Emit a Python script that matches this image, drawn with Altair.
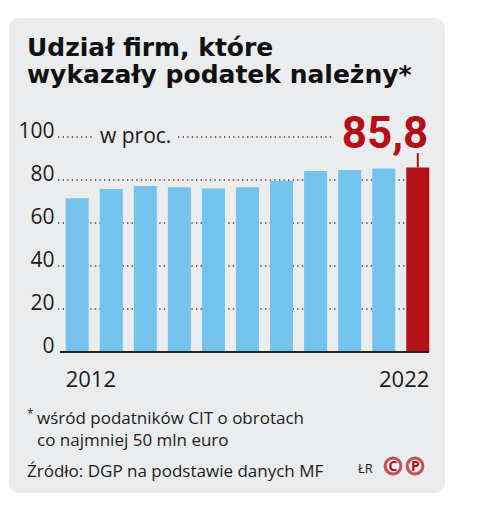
import altair as alt
import pandas as pd

years = [2012, 2013, 2014, 2015, 2016, 2017, 2018, 2019, 2020, 2021, 2022]
values = [71.5, 75.8, 77.2, 76.6, 76.0, 76.6, 79.7, 84.2, 84.7, 85.4, 85.8]
highlight_label = "85,8"
y_ticks = [0, 20, 40, 60, 80, 100]
grid_vals = [20, 40, 60, 80]
title_lines = ["Udział firm, które", "wykazały podatek należny*"]
unit_label = "w proc."
first_label = "2012"
last_label = "2022"
note_lines = ["wśród podatników CIT o obrotach", "co najmniej 50 mln euro"]
source_text = "Źródło: DGP na podstawie danych MF"
author_text = "ŁR"

BLUE = "#74c3ec"
RED = "#b3101a"
PANEL = "#ebecee"
INK = "#1c1c1c"
FONT = "Open Sans"

df = pd.DataFrame({"year": [str(y) for y in years], "value": values})
df["hl"] = df["year"] == str(years[-1])
last = df[df["hl"]].copy()
last["label"] = highlight_label

one = pd.DataFrame({"k": [0]})

xscale = alt.Scale(paddingInner=0.324, paddingOuter=0.226)
yscale = alt.Scale(domain=[0, 100], nice=False)
yaxis = alt.Axis(values=y_ticks, title=None, domain=False, ticks=False,
                 grid=False, labelFont=FONT, labelFontSize=21, zindex=1,
                 labelColor=INK, labelBaseline="alphabetic", labelPadding=4)


def Y(field):
    return alt.Y(field, scale=yscale, axis=yaxis, title=None)


def X(**kw):
    return alt.X("year:O", scale=xscale, axis=None, **kw)


panel = alt.Chart(one).mark_rect(fill=PANEL, cornerRadius=10).encode(
    x=alt.value(-49), x2=alt.value(387), y=alt.value(-119), y2=alt.value(356)
)

dots = dict(color="#444", strokeWidth=1.4, strokeDash=[1.4, 3.2])
grid = alt.Chart(pd.DataFrame({"value": grid_vals})).mark_rule(**dots).encode(
    y=Y("value:Q"), x=alt.value(0), x2=alt.value(371)
)
grid100a = alt.Chart(pd.DataFrame({"value": [100]})).mark_rule(**dots).encode(
    y=Y("value:Q"), x=alt.value(0), x2=alt.value(34)
)
grid100b = alt.Chart(pd.DataFrame({"value": [100]})).mark_rule(**dots).encode(
    y=Y("value:Q"), x=alt.value(120), x2=alt.value(274)
)

bars = alt.Chart(df).mark_bar().encode(
    x=X(),
    y=Y("value:Q"),
    color=alt.condition(alt.datum.hl, alt.value(RED), alt.value(BLUE)),
)

baseline = alt.Chart(pd.DataFrame({"value": [0]})).mark_rule(color="#222", strokeWidth=2).encode(
    y=Y("value:Q"), x=alt.value(2), x2=alt.value(371)
)

tick = alt.Chart(last).mark_rule(color=RED, strokeWidth=2).encode(
    x=X(), y=Y("value:Q"), y2=alt.value(16)
)

big = alt.Chart(last).mark_text(
    font="Roboto", fontWeight="bold", fontSize=44, color=RED,
    align="right", baseline="alphabetic", dx=-1
).encode(x=X(bandPosition=1), y=alt.value(11), text="label:N")

unit = alt.Chart(one).mark_text(
    font=FONT, fontSize=21, color=INK, align="left", baseline="alphabetic"
).encode(x=alt.value(42), y=alt.value(5.5), text=alt.value(unit_label))

yr_first = alt.Chart(df[df["year"] == first_label]).mark_text(
    font=FONT, fontSize=22, color=INK, align="left", baseline="alphabetic"
).encode(x=X(bandPosition=0), y=alt.value(250), text=alt.value(first_label))
yr_last = alt.Chart(df[df["year"] == last_label]).mark_text(
    font=FONT, fontSize=22, color=INK, align="right", baseline="alphabetic"
).encode(x=X(bandPosition=1), y=alt.value(250), text=alt.value(last_label))

tstyle = dict(font="DejaVu Sans", fontWeight="bold", fontSize=25, color="#111",
              align="left", baseline="alphabetic")
t1 = alt.Chart(one).mark_text(**tstyle).encode(
    x=alt.value(-31), y=alt.value(-81), text=alt.value(title_lines[0]))
t2 = alt.Chart(one).mark_text(**tstyle).encode(
    x=alt.value(-31), y=alt.value(-54), text=alt.value(title_lines[1]))

star = alt.Chart(one).mark_text(
    font=FONT, fontSize=12, color=INK, align="left", baseline="alphabetic"
).encode(x=alt.value(-31), y=alt.value(281), text=alt.value("*"))
nstyle = dict(font=FONT, fontSize=17, color=INK, align="left", baseline="alphabetic")
n1 = alt.Chart(one).mark_text(**nstyle).encode(
    x=alt.value(-21), y=alt.value(287), text=alt.value(note_lines[0]))
n2 = alt.Chart(one).mark_text(**nstyle).encode(
    x=alt.value(-21), y=alt.value(309), text=alt.value(note_lines[1]))
src = alt.Chart(one).mark_text(**nstyle).encode(
    x=alt.value(-31), y=alt.value(340), text=alt.value(source_text))
auth = alt.Chart(one).mark_text(
    font=FONT, fontSize=13, color=INK, align="left", baseline="alphabetic"
).encode(x=alt.value(300), y=alt.value(336), text=alt.value(author_text))

cstyle = dict(shape="circle", filled=False, stroke=RED, strokeWidth=3, size=250)
logo_c = alt.Chart(one).mark_point(**cstyle).encode(x=alt.value(335), y=alt.value(329))
logo_p = alt.Chart(one).mark_point(**cstyle).encode(x=alt.value(357), y=alt.value(329))
lstyle = dict(font=FONT, fontWeight="bold", fontSize=14, color=RED, align="center",
              baseline="middle")
logo_ct = alt.Chart(one).mark_text(**lstyle).encode(
    x=alt.value(335), y=alt.value(329.5), text=alt.value("C"))
logo_pt = alt.Chart(one).mark_text(**lstyle).encode(
    x=alt.value(357.5), y=alt.value(329.5), text=alt.value("P"))

chart = alt.layer(
    panel, grid, grid100a, grid100b, bars, baseline, tick, big, unit,
    yr_first, yr_last, t1, t2, star, n1, n2, src, auth,
    logo_c, logo_p, logo_ct, logo_pt
).properties(
    width=379, height=215,
    autosize=alt.AutoSizeParams(type="none"),
    padding={"left": 50, "top": 129, "right": 50, "bottom": 170},
    background="white",
).configure_view(stroke=None)

chart.save("out.html", embed_options={"renderer": "svg", "actions": False})
